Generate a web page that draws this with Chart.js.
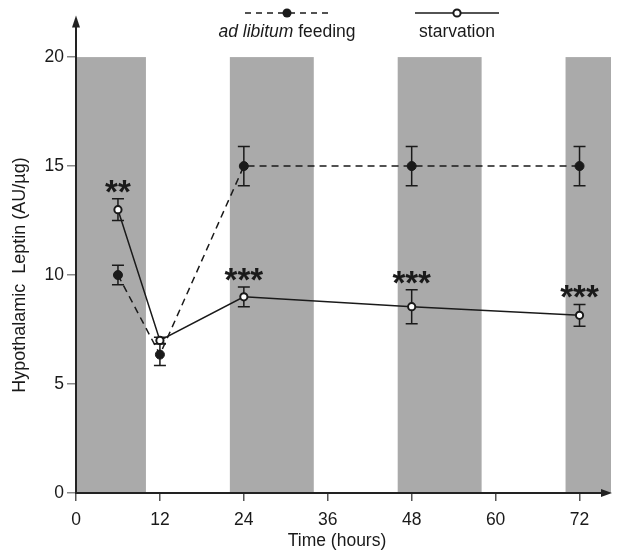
<!DOCTYPE html>
<html>
<head>
<meta charset="utf-8">
<script src="https://cdn.jsdelivr.net/npm/chart.js@4.4.1/dist/chart.umd.min.js"></script>
<style>
  html, body { margin: 0; padding: 0; background: #fff; }
  #wrap { width: 617px; height: 551px; }
</style>
</head>
<body>
<div id="wrap"><canvas id="leptinChart" width="617" height="551"></canvas></div>
<script>
// values
var hours = [6, 12, 24, 48, 72];
var adLibMean = [10, 6.35, 15, 15, 15];
var adLibErr = [0.45, 0.5, 0.9, 0.9, 0.9];
var starvMean = [13, 7, 9, 8.55, 8.15];
var starvErr = [0.5, 0.15, 0.45, 0.78, 0.5];
var starvStars = ['**', '', '***', '***', '***'];

// dark periods (grey bands)
var darkStart = [0, 22, 46, 70];
var darkEnd = [10, 34, 58, 76.5];
var darkTop = 20;

var xTicks = [0, 12, 24, 36, 48, 60, 72];
var yTicks = [0, 5, 10, 15, 20];

var FONT = '"Liberation Sans", Arial, sans-serif';
var INK = '#1a1a1a';

function toPoints(xs, ys) {
	return xs.map(function(x, i) { return { x: x, y: ys[i] }; });
}

function drawErrorBars(ctx, xScale, yScale, means, errs) {
	for (var i = 0; i < hours.length; i++) {
		var px = xScale.getPixelForValue(hours[i]);
		var top = yScale.getPixelForValue(means[i] + errs[i]);
		var bot = yScale.getPixelForValue(means[i] - errs[i]);
		ctx.beginPath();
		ctx.moveTo(px, top); ctx.lineTo(px, bot);
		ctx.moveTo(px - 6, top); ctx.lineTo(px + 6, top);
		ctx.moveTo(px - 6, bot); ctx.lineTo(px + 6, bot);
		ctx.stroke();
	}
}

var figurePlugin = {
	id: 'figure',
	beforeDatasetsDraw: function(chart) {
		var ctx = chart.ctx;
		var x = chart.scales.x, y = chart.scales.y, area = chart.chartArea;
		ctx.save();

		// grey bands
		ctx.fillStyle = '#aaaaaa';
		var yTop = y.getPixelForValue(darkTop);
		var yBot = y.getPixelForValue(0);
		for (var i = 0; i < darkStart.length; i++) {
			var x0 = x.getPixelForValue(darkStart[i]);
			var x1 = Math.min(x.getPixelForValue(darkEnd[i]), area.right);
			ctx.fillRect(x0, yTop, x1 - x0, yBot - yTop);
		}

		// error bars
		ctx.strokeStyle = INK;
		ctx.lineWidth = 1.5;
		drawErrorBars(ctx, x, y, adLibMean, adLibErr);
		drawErrorBars(ctx, x, y, starvMean, starvErr);
		ctx.restore();
	},
	afterDraw: function(chart) {
		var ctx = chart.ctx;
		var x = chart.scales.x, y = chart.scales.y, area = chart.chartArea;
		ctx.save();

		// axis lines with arrows
		var ox = area.left, oy = area.bottom;
		ctx.strokeStyle = '#222';
		ctx.fillStyle = '#222';
		ctx.lineWidth = 2;
		ctx.beginPath();
		ctx.moveTo(ox, oy + 1); ctx.lineTo(ox, area.top + 8);
		ctx.moveTo(ox - 1, oy); ctx.lineTo(area.right - 6, oy);
		ctx.stroke();
		ctx.beginPath();
		ctx.moveTo(ox, area.top + 2); ctx.lineTo(ox - 4, area.top + 14); ctx.lineTo(ox + 4, area.top + 14);
		ctx.closePath(); ctx.fill();
		ctx.beginPath();
		ctx.moveTo(area.right + 1, oy); ctx.lineTo(area.right - 10, oy - 4); ctx.lineTo(area.right - 10, oy + 4);
		ctx.closePath(); ctx.fill();

		// significance stars
		ctx.fillStyle = INK;
		ctx.font = 'bold 33px ' + FONT;
		ctx.textAlign = 'center';
		ctx.textBaseline = 'alphabetic';
		for (var i = 0; i < hours.length; i++) {
			if (!starvStars[i]) continue;
			var sx = x.getPixelForValue(hours[i]);
			var sy = y.getPixelForValue(starvMean[i] + starvErr[i]);
			ctx.fillText(starvStars[i], sx, sy + 4);
		}

		// legend
		ctx.strokeStyle = INK;
		ctx.lineWidth = 1.5;
		ctx.setLineDash([6, 5]);
		ctx.beginPath(); ctx.moveTo(245, 13); ctx.lineTo(328, 13); ctx.stroke();
		ctx.setLineDash([]);
		ctx.beginPath(); ctx.moveTo(415, 13); ctx.lineTo(499, 13); ctx.stroke();
		ctx.beginPath(); ctx.arc(287, 13, 4.5, 0, Math.PI * 2); ctx.fillStyle = INK; ctx.fill();
		ctx.beginPath(); ctx.arc(457, 13, 3.6, 0, Math.PI * 2);
		ctx.fillStyle = '#fff'; ctx.fill(); ctx.lineWidth = 2; ctx.stroke();

		ctx.fillStyle = INK;
		ctx.textBaseline = 'alphabetic';
		ctx.font = 'italic 17.5px ' + FONT;
		var w1 = ctx.measureText('ad libitum').width;
		ctx.font = '17.5px ' + FONT;
		var w2 = ctx.measureText(' feeding').width;
		var lx = 287 - (w1 + w2) / 2;
		ctx.textAlign = 'left';
		ctx.font = 'italic 17.5px ' + FONT;
		ctx.fillText('ad libitum', lx, 37);
		ctx.font = '17.5px ' + FONT;
		ctx.fillText(' feeding', lx + w1, 37);
		ctx.textAlign = 'center';
		ctx.fillText('starvation', 457, 37);

		// axis titles
		ctx.textBaseline = 'middle';
		ctx.fillText('Time (hours)', 337, 541);
		ctx.font = '18px ' + FONT;
		ctx.translate(20, 275);
		ctx.rotate(-Math.PI / 2);
		ctx.fillText('Hypothalamic  Leptin (AU/\u00b5g)', 0, 0);
		ctx.restore();
	}
};

var ctx = document.getElementById('leptinChart');
new Chart(ctx, {
	type: 'line',
	data: {
		datasets: [{
			label: 'ad libitum feeding',
			data: toPoints(hours, adLibMean),
			borderColor: INK,
			borderWidth: 1.5,
			borderDash: [7, 5],
			pointRadius: 4.5,
			pointBackgroundColor: INK,
			pointBorderColor: INK,
			pointBorderWidth: 1,
			tension: 0
		}, {
			label: 'starvation',
			data: toPoints(hours, starvMean),
			borderColor: INK,
			borderWidth: 1.5,
			pointRadius: 3.6,
			pointBackgroundColor: '#fff',
			pointBorderColor: INK,
			pointBorderWidth: 2,
			tension: 0
		}]
	},
	options: {
		responsive: false,
		animation: false,
		layout: { padding: { top: 13, right: 2, left: 0, bottom: 0 } },
		plugins: {
			legend: { display: false },
			tooltip: { enabled: false }
		},
		scales: {
			x: {
				type: 'linear',
				min: 0,
				max: 76.5,
				afterBuildTicks: function(scale) {
					scale.ticks = xTicks.map(function(v) { return { value: v }; });
				},
				afterFit: function(scale) { scale.height = 58; },
				border: { display: false },
				grid: { display: true, drawOnChartArea: false, tickLength: 8, color: '#555', lineWidth: 1.5 },
				ticks: { color: INK, font: { family: FONT, size: 17.5 }, padding: 9, maxRotation: 0 }
			},
			y: {
				min: 0,
				max: 22,
				afterBuildTicks: function(scale) {
					scale.ticks = yTicks.map(function(v) { return { value: v }; });
				},
				afterFit: function(scale) { scale.width = 76; },
				border: { display: false },
				grid: { display: true, drawOnChartArea: false, tickLength: 9, color: '#888', lineWidth: 1.5 },
				ticks: { color: INK, font: { family: FONT, size: 17.5 }, padding: 3 }
			}
		}
	},
	plugins: [figurePlugin]
});
</script>
</body>
</html>
